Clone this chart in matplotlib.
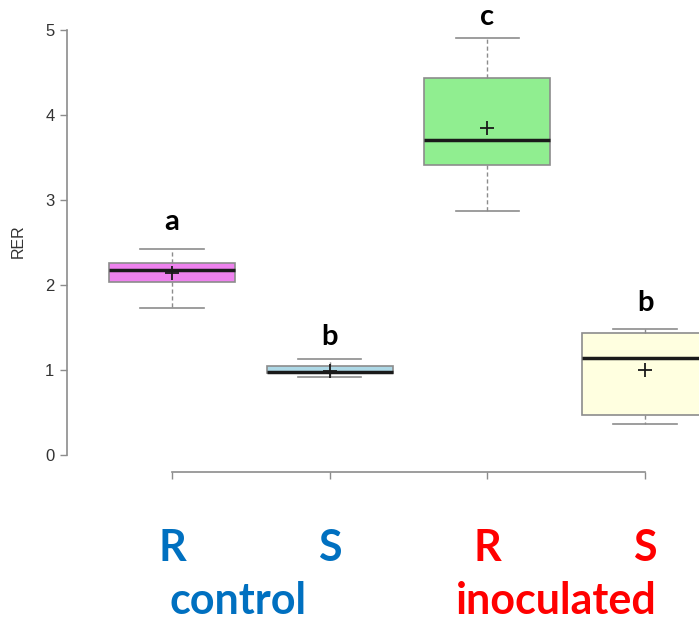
import numpy as np
import matplotlib
matplotlib.use("Agg")
import matplotlib.pyplot as plt

# box statistics (RER)
groups = ["R control", "S control", "R inoculated", "S inoculated"]
q1 = [2.035, 0.965, 3.41, 0.47]
med = [2.18, 0.98, 3.71, 1.14]
q3 = [2.26, 1.05, 4.435, 1.435]
whislo = [1.73, 0.92, 2.87, 0.37]
whishi = [2.42, 1.13, 4.91, 1.48]
means = [2.14, 0.99, 3.85, 1.00]
letters = ["a", "b", "c", "b"]
letter_y = [2.74, 1.39, 5.15, 1.79]
box_colors = ["#EE82EE", "#ADD8E6", "#90EE90", "#FFFFE0"]
sub_labels = ["R", "S", "R", "S"]
sub_colors = ["#0070C0", "#0070C0", "#FF0000", "#FF0000"]

W, H = 699, 626
fig = plt.figure(figsize=(W / 100, H / 100), dpi=100)
ax = fig.add_axes([67 / W, (H - 472) / H, (W - 67) / W, 472 / H])

stats = []
for i in range(4):
    stats.append(dict(q1=q1[i], med=med[i], q3=q3[i], whislo=whislo[i],
                      whishi=whishi[i], mean=means[i], fliers=[]))

grey = "#8c8c8c"
bp = ax.bxp(stats, positions=[1, 2, 3, 4], widths=0.8, patch_artist=True,
            showmeans=True, showfliers=False,
            boxprops=dict(edgecolor=grey, linewidth=1.2),
            medianprops=dict(color="#1a1a1a", linewidth=2.5),
            whiskerprops=dict(color=grey, linewidth=1.0, linestyle=(0, (3, 2))),
            capprops=dict(color=grey, linewidth=1.2),
            meanprops=dict(marker="+", markeredgecolor="#1a1a1a",
                           markersize=10, markeredgewidth=1.3),
            capwidths=0.4)
for patch, c in zip(bp["boxes"], box_colors):
    patch.set_facecolor(c)

# significance letters
for i in range(4):
    ax.text(i + 1, letter_y[i], letters[i], ha="center", va="center",
            fontsize=21, fontweight="bold", family="Lato", clip_on=False)

ax.set_xlim(1 - 105 / 157.7, 4 + 54 / 157.7)
ax.set_ylim(-17 / 85, 5 + 30 / 85)
ax.set_yticks([0, 1, 2, 3, 4, 5])
ax.set_xticks([1, 2, 3, 4])
ax.set_xticklabels([])
ax.set_yticklabels([str(v) for v in range(6)], family="Liberation Sans")

for side in ["top", "right"]:
    ax.spines[side].set_visible(False)
ax.spines["left"].set_bounds(0, 5)
ax.spines["bottom"].set_bounds(1, 4)
for side in ["left", "bottom"]:
    ax.spines[side].set_color(grey)
    ax.spines[side].set_linewidth(1.2)
ax.tick_params(colors=grey, length=5, width=1.0, labelsize=12,
               labelcolor="#333333", pad=4)
ax.set_ylabel("RER", fontsize=11.5, color="#333333", family="Liberation Sans")
ax.yaxis.set_label_coords(-0.066, 0.49)

# group labels under the axis
for i in range(4):
    ax.text(i + 1, -0.161, sub_labels[i], transform=ax.get_xaxis_transform(),
            ha="center", va="center", fontsize=31, fontweight="bold",
            color=sub_colors[i], family="Lato", clip_on=False)
ax.text(1.42, -0.274, "control", transform=ax.get_xaxis_transform(),
        ha="center", va="center", fontsize=31, fontweight="bold",
        color="#0070C0", family="Lato", clip_on=False)
ax.text(3.44, -0.274, "inoculated", transform=ax.get_xaxis_transform(),
        ha="center", va="center", fontsize=31, fontweight="bold",
        color="#FF0000", family="Lato", clip_on=False)

fig.savefig("out.png", dpi=100)
